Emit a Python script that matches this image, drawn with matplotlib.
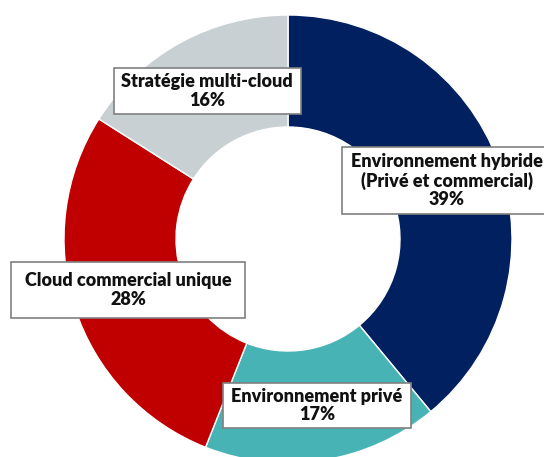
import matplotlib
matplotlib.use("Agg")
import matplotlib.pyplot as plt
from matplotlib.patches import Rectangle

W, H = 544, 457

categories = ["Environnement hybride\n(Privé et commercial)", "Environnement privé",
              "Cloud commercial unique", "Stratégie multi-cloud"]
values = [39, 17, 28, 16]
colors = ["#002060", "#48B3B5", "#C00000", "#C8D0D3"]

# label box layout in pixel coords (left, top, right, bottom) and text center x
boxes = [(342, 147, 560, 214), (223, 383, 411, 428), (11, 262, 245, 318), (114, 68, 301, 114)]
text_x = [447, 317, 128, 207]

fig = plt.figure(figsize=(W / 100, H / 100), dpi=100)
ax = fig.add_axes([0, 0, 1, 1])

cx, cy, R = 288, H - 239, 224
ax.pie(values, colors=colors, startangle=90, counterclock=False, center=(cx, cy),
       radius=R, wedgeprops=dict(width=112, edgecolor="white", linewidth=1.0),
       frame=True)
ax.set_xlim(0, W)
ax.set_ylim(0, H)
ax.set_aspect("equal")
ax.axis("off")

for cat, val, (l, t, r, b), tx in zip(categories, values, boxes, text_x):
    ax.add_patch(Rectangle((l, H - b), r - l, b - t, facecolor="white",
                           edgecolor="#808080", linewidth=1.2, zorder=5))
    ty = H - (t + b) / 2
    ax.text(tx, ty, f"{cat}\n{val}%", ha="center", va="center", fontsize=13,
            fontweight="heavy", family="Lato", color="#111111", zorder=6,
            linespacing=1.08)

fig.savefig("out.png", dpi=100)
